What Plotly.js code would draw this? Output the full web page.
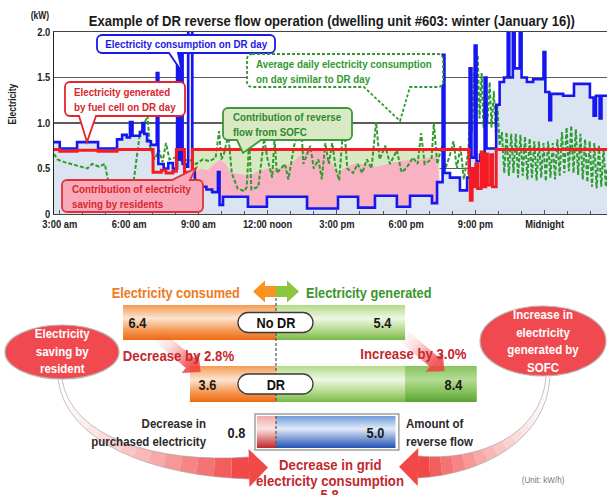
<!DOCTYPE html>
<html>
<head>
<meta charset="utf-8">
<script src="https://cdn.plot.ly/plotly-3.0.1.min.js"></script>
<style>
  html, body { margin: 0; padding: 0; background: #ffffff; }
  #chart { width: 607px; height: 495px; }
</style>
</head>
<body>
<div id="chart"></div>
<script>
// ===== Load profile, dwelling unit #603, 16 January (hours after midnight, kW) =====
// Electricity consumption on the DR day (stepped readings)
const consumptionHours = [2.75, 3.0, 3.75, 4.66, 5.48, 5.7, 5.9, 6.04, 6.15, 6.47,
  6.58, 6.66, 6.78, 6.95, 7.2, 7.27, 7.5, 7.7, 7.9, 8.08,
  8.16, 8.24, 8.32, 8.5, 8.56, 8.74, 8.85, 9.1, 9.35, 9.6,
  9.85, 9.92, 10.07, 11.15, 11.97, 13.71, 15.05, 15.92, 16.65, 17.6,
  18.17, 19.12, 19.34, 19.58, 19.66, 19.9, 20.33, 20.64, 20.75, 20.83,
  20.97, 21.05, 21.2, 21.33, 21.4, 21.48, 21.9, 22.05, 22.24, 22.4,
  22.47, 22.62, 22.7, 22.92, 23.0, 23.23, 23.5, 23.95, 24.03, 24.2,
  24.28, 24.8, 25.27, 25.96, 26.12, 26.22, 26.38, 26.46, 26.7];
const consumptionKW = [0.79, 0.72, 0.79, 0.72, 0.82, 0.87, 0.84, 1.01, 0.86, 0.9,
  1.0, 0.88, 0.8, 0.76, 1.55, 0.55, 0.5, 0.56, 0.5, 1.8,
  0.6, 1.8, 0.55, 0.52, 2.1, 0.48, 0.33, 0.3, 0.27, 0.24,
  0.46, 0.1, 0.19, 0.08, 0.19, 0.06, 0.19, 0.07, 0.2, 0.08,
  0.2, 0.12, 0.35, 1.75, 0.45, 0.4, 0.26, 0.4, 1.6, 0.62,
  1.85, 0.58, 0.65, 0.6, 1.5, 0.72, 1.2, 1.45, 1.5, 2.1,
  1.5, 2.1, 1.6, 2.1, 1.5, 1.45, 1.48, 1.78, 1.34, 1.03,
  1.32, 1.3, 1.43, 1.28, 1.08, 1.3, 1.05, 1.3, 1.3];

// Electricity generated by the fuel cell (SOFC) on the DR day
const fuelCellHours = [2.75, 3.0, 3.75, 4.66, 5.48, 7.04, 7.4, 7.6, 7.9, 8.05,
  8.4, 8.74, 20.72, 20.78, 20.86, 20.93, 21.02, 21.1, 21.25, 21.33,
  21.45, 21.52, 21.66, 21.74, 21.9, 26.7];
const fuelCellKW = [0.71, 0.69, 0.7, 0.69, 0.71, 0.46, 0.48, 0.45, 0.47, 0.71,
  0.46, 0.71, 0.45, 0.15, 0.5, 0.3, 0.55, 0.28, 0.68, 0.3,
  0.66, 0.32, 0.65, 0.3, 0.71, 0.71];

// Average daily consumption on days similar to the DR day
const similarDayHours = [
  2.75, 2.9, 3.2, 3.5, 3.9, 4.2, 4.4, 4.7, 4.95, 5.1, 5.4, 5.8, 6.2,
  6.45, 6.6, 6.8, 6.9, 7.1, 7.3, 7.45, 7.6, 7.75, 8.0, 8.3, 8.6,
  8.9, 9.2, 9.5, 9.75, 9.9, 10.0, 10.1, 10.3, 10.45, 10.7, 11.0, 11.1, 11.2, 11.3, 11.6, 11.85, 12.0, 12.2, 12.3, 12.4,
  12.75, 12.9, 13.15, 13.45, 13.55, 13.85, 14.0, 14.2, 14.35, 14.5, 14.65, 14.8, 14.95, 15.1,
  15.3, 15.45, 15.7, 15.9, 16.1, 16.3, 16.5, 16.7, 16.85, 17.1, 17.3, 17.6, 17.8, 18.0,
  18.3, 18.5, 18.65, 18.8, 19.1, 19.2, 19.35, 19.55, 19.7, 19.9, 20.05, 20.2, 20.35, 20.5, 20.7,
  20.8, 20.85, 20.95, 21.02, 21.1, 21.18, 21.27, 21.35, 21.45, 21.52, 21.62, 21.7, 21.8, 21.88, 21.95, 22.05,
  22.15, 22.25, 22.35, 22.45, 22.55, 22.65, 22.75, 22.85, 22.95, 23.05,
  23.15, 23.25, 23.35, 23.45, 23.55, 23.65, 23.75, 23.85, 23.95, 24.05,
  24.15, 24.25, 24.35, 24.45, 24.55, 24.65, 24.75, 24.85, 24.95, 25.05,
  25.15, 25.25, 25.35, 25.45, 25.55, 25.65, 25.75, 25.85, 25.95, 26.05,
  26.15, 26.25, 26.35, 26.45, 26.55, 26.65, 26.7];
const similarDayKW = [
  0.66, 0.6, 0.57, 0.55, 0.52, 0.5, 0.55, 0.52, 0.55, 0.36, 0.35, 0.34, 0.36,
  0.85, 0.95, 1.08, 0.75, 0.6, 0.7, 0.57, 0.78, 0.6, 0.62, 0.58, 0.6,
  0.55, 0.6, 0.58, 0.62, 0.91, 0.6, 0.65, 0.87, 0.45, 0.28, 0.25, 0.3, 0.81, 0.27, 0.3, 0.83, 0.6, 0.4, 0.83, 0.45,
  0.55, 0.38, 0.75, 1.01, 0.55, 0.75, 0.5, 0.6, 0.38, 0.78, 0.55, 0.78, 0.5, 0.37,
  1.03, 0.5, 0.45, 0.55, 0.45, 0.6, 0.5, 1.01, 0.6, 0.75, 0.55, 0.7, 0.46, 0.5,
  0.62, 0.55, 0.89, 0.55, 0.6, 1.0, 0.55, 0.75, 0.5, 0.65, 0.8, 0.5, 0.75, 0.38, 0.7,
  1.3, 0.9, 1.6, 1.0, 1.75, 1.05, 1.55, 0.95, 1.5, 1.0, 1.45, 0.95, 1.35, 0.9, 1.2, 0.75,
  0.9, 0.45, 0.9, 0.42, 0.88, 0.45, 0.88, 0.4, 0.87, 0.42,
  0.85, 0.38, 0.83, 0.4, 0.8, 0.37, 0.8, 0.4, 0.78, 0.36,
  0.8, 0.4, 0.78, 0.38, 0.82, 0.42, 0.9, 0.45, 0.95, 0.47,
  0.97, 0.45, 0.93, 0.43, 0.88, 0.38, 0.82, 0.35, 0.8, 0.3,
  0.78, 0.28, 0.75, 0.3, 0.72, 0.3, 0.5];

// Upper edge of the residents' saving band during the DR window
const savingTopHours = [8.77, 8.9, 9.1, 9.4, 9.7, 9.95, 10.2, 10.4, 10.8, 11.2,
  11.6, 12.0, 12.5, 13.0, 13.3, 13.6, 14.0, 14.4, 14.7, 15.0,
  15.3, 15.7, 16.2, 16.7, 17.2, 17.7, 18.2, 18.7, 19.1, 19.35, 19.45];
const savingTopKW = [0.3, 0.45, 0.5, 0.48, 0.55, 0.6, 0.55, 0.45, 0.44, 0.42,
  0.47, 0.5, 0.5, 0.55, 0.62, 0.68, 0.7, 0.69, 0.6, 0.45,
  0.5, 0.55, 0.55, 0.52, 0.55, 0.58, 0.6, 0.6, 0.63, 0.62, 0.3];

const timeTickValues = [3, 6, 9, 12, 15, 18, 21, 24];
const timeTickLabels = ['3:00 am', '6:00 am', '9:00 am', '12:00 noon', '3:00 pm', '6:00 pm', '9:00 pm', 'Midnight'];
const kwTickValues = [0, 0.5, 1, 1.5, 2];
const kwTickLabels = ['0', '0.5', '1.0', '1.5', '2.0'];

// ===== Daily energy balance (kWh) =====
const scenarios = ['No DR', 'DR'];
const consumedKWh = [6.4, 3.6];
const generatedKWh = [5.4, 8.4];
const consumedChange = 'Decrease by 2.8%';
const generatedChange = 'Increase by 3.0%';
const purchasedDecreaseKWh = 0.8;
const reverseFlowKWh = 5.0;
const gridDecreaseKWh = 5.8;

// ===== Styling =====
const F = '"Liberation Sans", Arial, sans-serif';
const NARROW = 0.85;           // horizontal glyph compression for a narrow face
const TITLE_WIDTH = 486;       // rendered width of the chart heading, px
const W = 607, H = 495;
const PLOT = { left: 54, top: 32, bottom: 214 };
const KWH_ZERO_PX = 276, PX_PER_KWH = 23.9;
const ROWS = { noDR: [305, 340], dr: [366, 402], grid: [416, 448] };

const ORANGE_GRAD = [[0, '#f49a50'], [0.38, '#fde4d0'], [0.72, '#f59a55'], [1, '#ef6a14']];
const GREEN_GRAD = [[0, '#b2da86'], [0.38, '#eef7e5'], [0.72, '#b4da8c'], [1, '#78ba48']];
const DKGREEN_GRAD = [[0, '#86c45c'], [0.38, '#b5dc96'], [0.72, '#84c25a'], [1, '#5aa236']];
const RED_GRAD = [[0, '#f2a8a8'], [0.4, '#fbe3e3'], [1, '#c0262b']];
const BLUE_GRAD = [[0, '#6f9bdc'], [0.4, '#e2ebf8'], [1, '#2151b3']];

function b(t) { return '<b>' + t + '</b>'; }

function stepValue(hs, vs, h) {
  let v = vs[0];
  for (let i = 0; i < hs.length; i++) { if (hs[i] <= h) v = vs[i]; else break; }
  return v;
}
const reverseBandKW = savingTopHours.map(h => stepValue(fuelCellHours, fuelCellKW, h));

// ----- time-series traces -----
const traces = [
  { x: savingTopHours, y: reverseBandKW, type: 'scatter', mode: 'lines',
    line: { width: 0, shape: 'hv' }, fill: 'tozeroy', fillcolor: '#d8e8c2' },
  { x: savingTopHours, y: savingTopKW, type: 'scatter', mode: 'lines',
    line: { width: 0 }, fill: 'tozeroy', fillcolor: '#f8b2c4' },
  { x: consumptionHours, y: consumptionKW, type: 'scatter', mode: 'lines',
    line: { width: 0, shape: 'hv' }, fill: 'tozeroy', fillcolor: '#dbe4f1' },
  { x: similarDayHours, y: similarDayKW, type: 'scatter', mode: 'lines',
    line: { color: '#2e9c2e', width: 2, dash: '4px,2px' } },
  { x: consumptionHours, y: consumptionKW, type: 'scatter', mode: 'lines',
    line: { color: '#1616f0', width: 2.6, shape: 'hv' } },
  { x: fuelCellHours, y: fuelCellKW, type: 'scatter', mode: 'lines',
    line: { color: '#f41c24', width: 3, shape: 'hv' } }
];

// ----- energy-balance bars (scatter polygons with gradient fill, kWh on x2) -----
function barTrace(x0, x1, row, scale) {
  const [yt, yb] = row;
  return { type: 'scatter', mode: 'lines', xaxis: 'x2', yaxis: 'y3',
    x: [x0, x1, x1, x0, x0], y: [yt, yt, yb, yb, yt],
    fill: 'toself', line: { width: 0, color: 'rgba(0,0,0,0)' },
    fillgradient: { type: 'vertical', start: yt, stop: yb, colorscale: scale } };
}
traces.push(
  barTrace(-consumedKWh[0], 0, ROWS.noDR, ORANGE_GRAD),
  barTrace(0, generatedKWh[0], ROWS.noDR, GREEN_GRAD),
  barTrace(-consumedKWh[1], 0, ROWS.dr, ORANGE_GRAD),
  barTrace(0, generatedKWh[0], ROWS.dr, GREEN_GRAD),
  barTrace(generatedKWh[0], generatedKWh[1], ROWS.dr, DKGREEN_GRAD),
  barTrace(-purchasedDecreaseKWh, 0, ROWS.grid, RED_GRAD),
  barTrace(0, reverseFlowKWh, ROWS.grid, BLUE_GRAD)
);
traces.forEach(t => { t.hoverinfo = 'skip'; t.showlegend = false; });

// ----- decorative shapes (pixel space on x3/y3) -----
function pathShape(path, fill, lineColor, lineWidth, dash) {
  return { type: 'path', xref: 'x3', yref: 'y3', layer: 'above', path: path,
    fillcolor: fill, line: { color: lineColor || 'rgba(0,0,0,0)', width: lineWidth || 0, dash: dash || 'solid' } };
}
const K = 0.5523;
function roundRect(x0, y0, x1, y1, r, side, pa, pb, tip) {
  const k = r * K;
  let p = `M${x0 + r},${y0}`;
  if (side === 'top') p += ` L${pa},${y0} L${tip[0]},${tip[1]} L${pb},${y0}`;
  p += ` L${x1 - r},${y0} C${x1 - r + k},${y0} ${x1},${y0 + r - k} ${x1},${y0 + r}`;
  p += ` L${x1},${y1 - r} C${x1},${y1 - r + k} ${x1 - r + k},${y1} ${x1 - r},${y1}`;
  if (side === 'bottom') p += ` L${pb},${y1} L${tip[0]},${tip[1]} L${pa},${y1}`;
  p += ` L${x0 + r},${y1} C${x0 + r - k},${y1} ${x0},${y1 - r + k} ${x0},${y1 - r}`;
  p += ` L${x0},${y0 + r} C${x0},${y0 + r - k} ${x0 + r - k},${y0} ${x0 + r},${y0} Z`;
  return p;
}
function pt(p) { return p[0].toFixed(2) + ',' + p[1].toFixed(2); }
function cubic(P, t) {
  const u = 1 - t;
  return [0, 1].map(i => u * u * u * P[0][i] + 3 * u * u * t * P[1][i] + 3 * u * t * t * P[2][i] + t * t * t * P[3][i]);
}
function cubicD(P, t) {
  const u = 1 - t;
  return [0, 1].map(i => 3 * u * u * (P[1][i] - P[0][i]) + 6 * u * t * (P[2][i] - P[1][i]) + 3 * t * t * (P[3][i] - P[2][i]));
}
// Arrow along a cubic curve whose colour fades in from the tail
function fadeArrow(P, w0, w1, headLen, headHalf, a0, a1, outline) {
  const n = 16, L = [], R = [], out = [];
  for (let i = 0; i <= n; i++) {
    const t = i / n, p = cubic(P, t), d = cubicD(P, t), len = Math.hypot(d[0], d[1]);
    const nx = -d[1] / len, ny = d[0] / len, w = w0 + (w1 - w0) * Math.pow(t, 1.6);
    L.push([p[0] + nx * w, p[1] + ny * w]); R.push([p[0] - nx * w, p[1] - ny * w]);
  }
  for (let i = 0; i < n; i++) {
    const a = a0 + (a1 - a0) * Math.pow((i + 1) / n, 2);
    out.push(pathShape(`M${pt(L[i])} L${pt(L[i + 1])} L${pt(R[i + 1])} L${pt(R[i])} Z`, `rgba(240,62,62,${a.toFixed(3)})`));
  }
  if (outline) {
    out.push(pathShape('M' + L.map(pt).join(' L') + ' M' + R.map(pt).join(' L'), 'rgba(0,0,0,0)', 'rgba(160,160,160,0.8)', 0.8));
  }
  const d = cubicD(P, 1), len = Math.hypot(d[0], d[1]), ux = d[0] / len, uy = d[1] / len;
  const e = P[3], tip = [e[0] + ux * headLen, e[1] + uy * headLen];
  const b1 = [e[0] - uy * headHalf, e[1] + ux * headHalf], b2 = [e[0] + uy * headHalf, e[1] - ux * headHalf];
  out.push(pathShape(`M${pt(b1)} L${pt(tip)} L${pt(b2)} Z`, `rgba(240,62,62,${a1})`));
  return out;
}
function straight(p0, p3) {
  return [p0, [p0[0] + (p3[0] - p0[0]) / 3, p0[1] + (p3[1] - p0[1]) / 3],
    [p0[0] + 2 * (p3[0] - p0[0]) / 3, p0[1] + 2 * (p3[1] - p0[1]) / 3], p3];
}

const shapes = [];
// sweeping arrows into the grid-consumption summary
shapes.push(...fadeArrow([[60, 379], [68, 440], [155, 470], [249, 468]], 2, 11, 19, 19, 0.0, 0.95, true));
shapes.push(...fadeArrow([[548, 377], [544, 438], [480, 468], [418, 467]], 2, 11, 19, 19, 0.0, 0.95, true));
// red ellipses
shapes.push({ type: 'circle', xref: 'x3', yref: 'y3', layer: 'above', x0: 5, x1: 119, y0: 325, y1: 379,
  fillcolor: '#f04a50', line: { color: '#b5b5b5', width: 1.2 } });
shapes.push({ type: 'circle', xref: 'x3', yref: 'y3', layer: 'above', x0: 480, x1: 606, y0: 306, y1: 376,
  fillcolor: '#f04a50', line: { color: '#b5b5b5', width: 1.2 } });
// drop arrows between scenario rows
shapes.push(...fadeArrow(straight([158, 336], [190, 363]), 6.5, 6.5, 14, 13, 0.05, 0.85, false));
shapes.push(...fadeArrow(straight([404, 336], [434, 362]), 6.5, 6.5, 14, 13, 0.05, 0.85, false));
// zero divider
shapes.push({ type: 'line', xref: 'x2', yref: 'y3', layer: 'above', x0: 0, x1: 0, y0: 288, y1: 402,
  line: { color: '#555', width: 1.2, dash: '3px,2px' } });
shapes.push({ type: 'line', xref: 'x2', yref: 'y3', layer: 'above', x0: 0, x1: 0, y0: 416, y1: 448,
  line: { color: '#555', width: 1.2, dash: '3px,2px' } });
// frame around the grid bar
shapes.push({ type: 'rect', xref: 'x2', yref: 'y3', layer: 'above',
  x0: -purchasedDecreaseKWh - 0.08, x1: reverseFlowKWh + 0.14, y0: ROWS.grid[0] - 2, y1: ROWS.grid[1] + 2,
  fillcolor: 'rgba(0,0,0,0)', line: { color: '#a0a0a0', width: 1.5 } });
// scenario pills
[ROWS.noDR, ROWS.dr].forEach(row => {
  const c = (row[0] + row[1]) / 2;
  shapes.push(pathShape(roundRect(238, c - 10, 313, c + 10, 10), '#ffffff', '#3a3a3a', 1.3));
});
// header double arrow
shapes.push(pathShape('M276,286 L265,286 L265,280.5 L253,291.5 L265,302.5 L265,297 L276,297 Z', '#f7931e'));
shapes.push(pathShape('M276,286 L287,286 L287,280.5 L299,291.5 L287,302.5 L287,297 L276,297 Z', '#8cc63f'));

// callouts on the load-profile chart
const callouts = [
  { box: [97, 35, 275, 53], side: 'bottom', base: [169, 178], tip: [182, 72], fill: '#ffffff', line: '#1a1ae6',
    text: 'Electricity consumption on DR day', color: '#1a1ae6', tx: 186, ty: 44, align: 'center' },
  { box: [65, 82, 185, 116], side: 'bottom', base: [79, 96], tip: [87, 142], fill: '#ffffff', line: '#e0262e',
    text: 'Electricity generated<br>by fuel cell on DR day', color: '#d9262c', tx: 72, ty: 99.5, align: 'left' },
  { box: [247, 54, 443, 87], side: 'bottom', base: [364, 410], tip: [400, 121], fill: '#ffffff', line: '#2f9a2f', dash: '3px,2px',
    text: 'Average daily electricity consumption<br>on day similar to DR day', color: '#2f9a2f', tx: 254, ty: 71, align: 'left' },
  { box: [223, 108, 352, 140], side: 'bottom', base: [237, 261], tip: [243, 153], fill: '#d8e9c3', line: '#3a9a35',
    text: 'Contribution of reverse<br>flow from SOFC', color: '#2f8a2f', tx: 231, ty: 124, align: 'left' },
  { box: [62, 180, 203, 212], side: 'top', base: [172, 190], tip: [196, 168], fill: '#f8aabb', line: '#e0303a',
    text: 'Contribution of electricity<br>saving by residents', color: '#d9262c', tx: 70, ty: 196.5, align: 'left' }
];
callouts.forEach(c => {
  shapes.push(pathShape(roundRect(c.box[0], c.box[1], c.box[2], c.box[3], 5, c.side, c.base[0], c.base[1], c.tip),
    c.fill, c.line, 1.8, c.dash));
});

// ----- text -----
function txt(x, y, text, size, color, extra) {
  const a = Object.assign({ xref: 'x3', yref: 'y3', x: x, y: y, text: text, showarrow: false,
    xanchor: 'center', yanchor: 'middle', font: { family: F, size: size, color: color } }, extra || {});
  a.align = a.xanchor;
  return a;
}
function kwhTxt(v, y, text, size, color) {
  return { xref: 'x2', yref: 'y3', x: v, y: y, text: text, showarrow: false,
    xanchor: 'center', yanchor: 'middle', align: 'center', font: { family: F, size: size, color: color } };
}
const TITLE_TEXT = 'Example of DR reverse flow operation (dwelling unit #603: winter (January 16))';
const annotations = [
  txt(40, 15, b('(kW)'), 10, '#222'),
  txt(12, 104, b('Electricity'), 10, '#222', { textangle: -90 }),
  txt(332, 21, b(TITLE_TEXT), 14.8, '#1a1a1a')
];
callouts.forEach(c => {
  annotations.push(txt(c.tx, c.ty, b(c.text), 11.5, c.color, { xanchor: c.align === 'left' ? 'left' : 'center' }));
});
const midNoDR = (ROWS.noDR[0] + ROWS.noDR[1]) / 2, midDR = (ROWS.dr[0] + ROWS.dr[1]) / 2;
const midGrid = (ROWS.grid[0] + ROWS.grid[1]) / 2;
annotations.push(
  txt(242, 292, b('Electricity consumed'), 15, '#ee7a22', { xanchor: 'right' }),
  txt(304, 292, b('Electricity generated'), 15, '#3a962c', { xanchor: 'left' }),
  txt(276, midNoDR, b(scenarios[0]), 15, '#111'),
  txt(276, midDR, b(scenarios[1]), 15, '#111'),
  kwhTxt(-consumedKWh[0] + 0.63, midNoDR, b(consumedKWh[0].toFixed(1)), 15, '#1a1a1a'),
  kwhTxt(generatedKWh[0] - 0.92, midNoDR, b(generatedKWh[0].toFixed(1)), 15, '#1a1a1a'),
  kwhTxt(-consumedKWh[1] + 0.75, midDR, b(consumedKWh[1].toFixed(1)), 15, '#1a1a1a'),
  kwhTxt(generatedKWh[1] - 0.95, midDR, b(generatedKWh[1].toFixed(1)), 15, '#1a1a1a'),
  txt(178, 355, b(consumedChange), 15.5, '#c3282d'),
  txt(413, 353, b(generatedChange), 15.5, '#c3282d'),
  txt(62, 351, b('Electricity<br>saving by<br>resident'), 13.5, '#ffffff'),
  txt(543, 341, b('Increase in<br>electricity<br>generated by<br>SOFC'), 13.5, '#ffffff'),
  txt(209, midGrid, b('Decrease in<br>purchased electricity'), 13.5, '#2a2a2a', { xanchor: 'right' }),
  kwhTxt(-purchasedDecreaseKWh - 0.87, midGrid, b(purchasedDecreaseKWh.toFixed(1)), 15, '#1a1a1a'),
  kwhTxt(reverseFlowKWh - 0.82, midGrid, b(reverseFlowKWh.toFixed(1)), 15, '#1a1a1a'),
  txt(404, midGrid, b('Amount of<br>reverse flow'), 13.5, '#2a2a2a', { xanchor: 'left' }),
  txt(330, 464, b('Decrease in grid'), 15.5, '#c3282d'),
  txt(330, 480, b('electricity consumption'), 15.5, '#c3282d'),
  txt(330, 494.5, b(gridDecreaseKWh.toFixed(1)), 15.5, '#c3282d'),
  txt(543, 479, '(Unit: kW/h)', 9.5, '#777')
);

const layout = {
  width: W, height: H,
  margin: { l: 0, r: 0, t: 0, b: 0 },
  paper_bgcolor: '#ffffff', plot_bgcolor: 'rgba(0,0,0,0)',
  showlegend: false,
  xaxis: { domain: [PLOT.left / W, 1], range: [2.75, 26.7], anchor: 'y',
    tickvals: timeTickValues, ticktext: timeTickLabels.map(b), tickfont: { family: F, size: 11, color: '#222' },
    ticks: 'inside', ticklen: 4, tickcolor: '#555',
    minor: { dtick: 1, tick0: 0, ticks: 'inside', ticklen: 3, tickcolor: '#555', showgrid: false },
    showline: true, linecolor: '#444', linewidth: 1.2, mirror: true, showgrid: false, zeroline: false, fixedrange: true },
  yaxis: { domain: [1 - PLOT.bottom / H, 1 - PLOT.top / H], range: [0, 2], anchor: 'x',
    tickvals: kwTickValues, ticktext: kwTickLabels.map(b), tickfont: { family: F, size: 11, color: '#222' },
    ticks: '', showgrid: true, gridcolor: '#5c5c5c', gridwidth: 1.2,
    showline: true, linecolor: '#222', linewidth: 1.5, zeroline: false, fixedrange: true },
  xaxis2: { domain: [0, 1], range: [-KWH_ZERO_PX / PX_PER_KWH, (W - KWH_ZERO_PX) / PX_PER_KWH], anchor: 'y3', visible: false, fixedrange: true },
  xaxis3: { domain: [0, 1], range: [0, W], anchor: 'y3', visible: false, fixedrange: true },
  yaxis3: { domain: [0, 1], range: [H, 0], anchor: 'x3', visible: false, fixedrange: true },
  shapes: shapes,
  annotations: annotations
};

// Narrow the sans-serif glyphs in place so labels take the width of a condensed face
function condenseText(gd, factor) {
  gd.querySelectorAll('.main-svg text').forEach(t => {
    const lines = t.querySelectorAll('tspan.line');
    const targets = lines.length ? Array.from(lines) : [t];
    const isTitle = t.textContent === TITLE_TEXT;
    targets.forEach(el => {
      const len = el.getComputedTextLength();
      if (len > 0) {
        const target = isTitle ? Math.min(TITLE_WIDTH, len) : len * factor;
        el.setAttribute('textLength', target.toFixed(2));
        el.setAttribute('lengthAdjust', 'spacingAndGlyphs');
      }
    });
  });
}

Plotly.newPlot('chart', traces, layout, { staticPlot: true, displayModeBar: false })
  .then(gd => condenseText(gd, NARROW));
</script>
</body>
</html>
